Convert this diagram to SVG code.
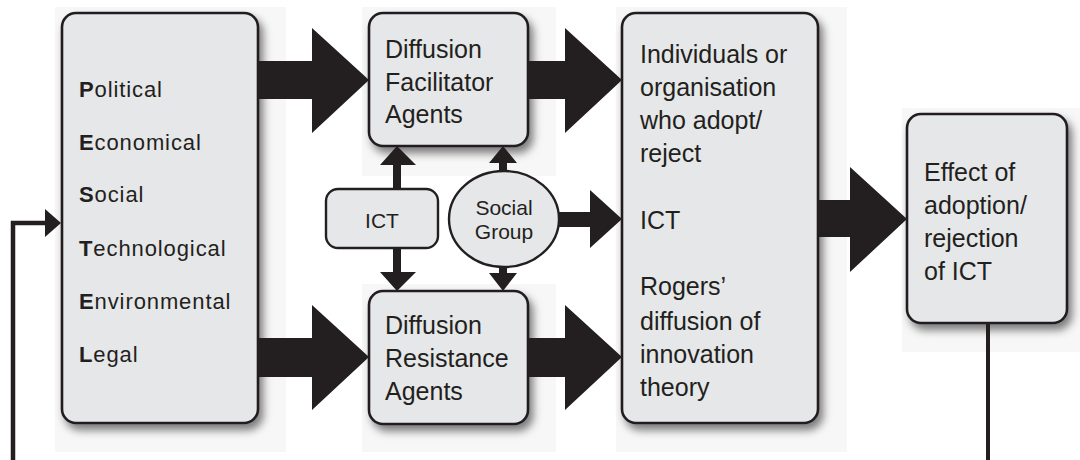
<svg xmlns="http://www.w3.org/2000/svg" width="1080" height="460" viewBox="0 0 1080 460">
<style>
.bg{fill:#f7f7f7}
.box{fill:#e6e7e8;stroke:#231f20;stroke-width:2.6;filter:url(#sh)}
.sm{fill:#e6e7e8;stroke:#231f20;stroke-width:2.4}
.t{font-family:"Liberation Sans",Arial,sans-serif;font-size:25px;fill:#231f20}
.p{font-family:"Liberation Sans",Arial,sans-serif;font-size:22px;fill:#231f20;letter-spacing:0.9px}
.p tspan.b{font-weight:bold}
.s{font-family:"Liberation Sans",Arial,sans-serif;font-size:21px;fill:#231f20;text-anchor:middle}
.ar{fill:#231f20}
.ln{stroke:#231f20;stroke-width:4.5;fill:none}
</style>
<defs>
<filter id="sh" x="-20%" y="-20%" width="150%" height="150%">
<feDropShadow dx="4" dy="6" stdDeviation="4" flood-color="#000" flood-opacity="0.5"/>
</filter>
</defs>
<rect width="1080" height="460" fill="#fff"/>
<g id="pest">
<rect class="bg" x="55" y="7" width="231" height="445"/>
<rect class="box" x="62" y="13" width="196" height="410" rx="14"/>
<text class="p" x="79" y="97"><tspan class="b">P</tspan>olitical</text>
<text class="p" x="79" y="150"><tspan class="b">E</tspan>conomical</text>
<text class="p" x="79" y="202"><tspan class="b">S</tspan>ocial</text>
<text class="p" x="79" y="256"><tspan class="b">T</tspan>echnological</text>
<text class="p" x="79" y="309"><tspan class="b">E</tspan>nvironmental</text>
<text class="p" x="79" y="362"><tspan class="b">L</tspan>egal</text>
</g>
<g id="facilitator">
<rect class="bg" x="362" y="7" width="194" height="169"/>
<rect class="box" x="369" y="13" width="159" height="133" rx="14"/>
<text class="t" x="385" y="58">Diffusion</text>
<text class="t" x="385" y="90.5">Facilitator</text>
<text class="t" x="385" y="123">Agents</text>
</g>
<g id="resistance">
<rect class="bg" x="362" y="284" width="194" height="168"/>
<rect class="box" x="369" y="291" width="159" height="133" rx="14"/>
<text class="t" x="385" y="334">Diffusion</text>
<text class="t" x="385" y="367">Resistance</text>
<text class="t" x="385" y="400">Agents</text>
</g>
<g id="ict">
<rect class="sm" x="326" y="189" width="112" height="59" rx="12"/>
<text class="s" x="382" y="228">ICT</text>
</g>
<g id="social">
<ellipse class="sm" cx="504" cy="219" rx="55" ry="48"/>
<text class="s" x="504" y="215">Social</text>
<text class="s" x="504" y="239">Group</text>
</g>
<g id="individuals">
<rect class="bg" x="616" y="7" width="231" height="445"/>
<rect class="box" x="622" y="13" width="196" height="410" rx="14"/>
<text class="t" x="640" y="62.5">Individuals or</text>
<text class="t" x="640" y="95.5">organisation</text>
<text class="t" x="640" y="128.5">who adopt/</text>
<text class="t" x="640" y="161.5">reject</text>
<text class="t" x="640" y="229">ICT</text>
<text class="t" x="640" y="295">Rogers’</text>
<text class="t" x="640" y="330">diffusion of</text>
<text class="t" x="640" y="363">innovation</text>
<text class="t" x="640" y="396">theory</text>
</g>
<g id="effect">
<rect class="bg" x="902" y="108" width="178" height="244"/>
<rect class="box" x="907" y="114" width="160" height="209" rx="14"/>
<text class="t" x="924" y="181">Effect of</text>
<text class="t" x="924" y="214">adoption/</text>
<text class="t" x="924" y="247">rejection</text>
<text class="t" x="924" y="280">of ICT</text>
</g>
<g id="connectors">
<polygon class="ar" points="258,61 312,61 312,28 369,80 312,133 312,99 258,99"/>
<polygon class="ar" points="258,338 312,338 312,305 369,357 312,410 312,377 258,377"/>
<polygon class="ar" points="528,61 565,61 565,28 622,80 565,133 565,99 528,99"/>
<polygon class="ar" points="528,338 565,338 565,305 622,357 565,410 565,377 528,377"/>
<polygon class="ar" points="559,212 590,212 590,190 622,219 590,248 590,227 559,227"/>
<polygon class="ar" points="818,200 850,200 850,167 907,219 850,272 850,237 818,237"/>
<polygon class="ar" points="393,189 393,165 380,165 397,146 416,165 401,165 401,189"/>
<polygon class="ar" points="393,248 393,272 380,272 397,291 416,272 401,272 401,248"/>
<polygon class="ar" points="499,172 499,163 489,163 503,146 517,163 507,163 507,172"/>
<polygon class="ar" points="499,266 499,273 489,273 503,291 517,273 507,273 507,266"/>
<polyline class="ln" points="13,460 13,223 47,223"/>
<polygon class="ar" points="45,209 61,223 45,237"/>
<line class="ln" x1="988" y1="323" x2="988" y2="460" style="stroke-width:4"/>
</g>
</svg>
